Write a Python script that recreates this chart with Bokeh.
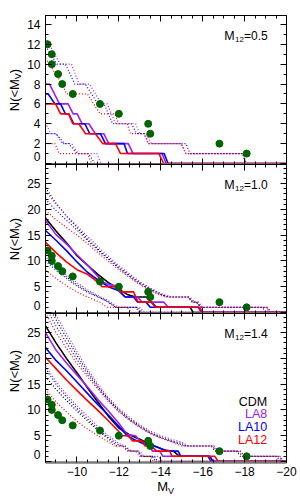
from math import pi
from bokeh.plotting import figure
from bokeh.models import Range1d, FixedTicker, LinearAxis, Label, ColumnDataSource
from bokeh.layouts import column, row
from bokeh.embed import file_html
from bokeh.resources import INLINE

FONT = "Liberation Sans"

# ---------------- data ----------------
X_MAJOR = [-10, -12, -14, -16, -18, -20]
X_MAJOR_LABELS = ["\u221210", "\u221212", "\u221214", "\u221216", "\u221218", "\u221220"]
X_MINOR = [-8.5, -9.0, -9.5, -10.5, -11.0, -11.5, -12.5, -13.0, -13.5, -14.5, -15.0, -15.5,
           -16.5, -17.0, -17.5, -18.5, -19.0, -19.5]
Y1_MAJOR = [0, 2, 4, 6, 8, 10, 12, 14]
Y1_LABELS = ["0", "2", "4", "6", "8", "10", "12", "14"]
Y1_MINOR = [1, 3, 5, 7, 9, 11, 13]
Y23_MAJOR = [0, 5, 10, 15, 20, 25]
Y23_LABELS = ["0", "5", "10", "15", "20", "25"]
Y23_MINOR = [1, 2, 3, 4, 6, 7, 8, 9, 11, 12, 13, 14, 16, 17, 18, 19, 21, 22, 23, 24, 26, 27, 28]
# the "0" label sits a little above the bottom edge, as in the original
ZERO_LABEL_POS = [0.7, 1.35, 1.35]

PANEL_MASS = ["0.5", "1.0", "1.4"]
MODELS = ["CDM", "LA8", "LA10", "LA12"]
MODEL_COLORS = ["black", "#a020f0", "#0000ff", "#ff0000"]

# observed Milky Way satellites (M_V, cumulative N)
OBS_MV = [-8.6, -8.8, -8.8, -9.1, -9.3, -9.8, -11.1, -12.0, -13.4, -13.5, -16.8, -18.1]
OBS_N = [12, 11, 10, 9, 8, 7, 6, 5, 4, 3, 2, 1]

# ---- panel 1: M12 = 0.5 ----
P1_LA8_MED = [(-8.5, 8), (-8.69, 8), (-9.17, 6), (-9.58, 6), (-9.82, 5), (-10.01, 5), (-10.25, 4), (-10.57, 4),
              (-10.88, 3), (-11.28, 3), (-11.52, 2), (-12.45, 2), (-12.68, 1), (-14.06, 1), (-14.26, 0), (-20, 0)]
P1_LA10_MED = [(-8.5, 7), (-8.63, 7), (-8.95, 6), (-9.22, 6), (-9.45, 5), (-9.61, 5), (-9.85, 4), (-10.38, 4),
               (-10.61, 3), (-11.12, 3), (-11.36, 2), (-12.25, 2), (-12.41, 1), (-14.16, 1), (-14.35, 0), (-20, 0)]
P1_LA12_MED = [(-8.5, 6), (-8.98, 6), (-9.22, 5), (-9.61, 5), (-9.80, 4), (-10.09, 4), (-10.41, 3), (-10.88, 3),
               (-11.23, 2), (-11.84, 2), (-12.08, 1), (-13.91, 1), (-14.14, 0), (-20, 0)]
P1_LA8_HI = [(-8.5, 12.7), (-9.2, 10), (-9.74, 10), (-10.1, 8), (-10.6, 8), (-11.17, 6), (-11.45, 6), (-11.85, 4),
             (-12.8, 4), (-13.0, 3), (-13.3, 3), (-13.55, 2), (-15.0, 2), (-15.2, 1), (-17.93, 1), (-18.09, 0), (-20, 0)]
P1_LA10_HI = [(-8.5, 11.8), (-9.05, 10), (-9.45, 10), (-9.9, 8), (-10.4, 8), (-11.0, 6), (-11.3, 6), (-11.7, 4),
              (-12.6, 4), (-12.85, 3), (-13.2, 3), (-13.4, 2), (-15.2, 2), (-15.4, 1), (-17.9, 1), (-18.05, 0), (-20, 0)]
P1_LA12_HI = [(-8.5, 10.6), (-9.3, 8), (-9.5, 7), (-10.5, 7), (-10.8, 6), (-11.1, 5), (-11.8, 5), (-12.0, 4),
              (-12.4, 4), (-12.55, 3), (-13.25, 3), (-13.4, 2), (-14.95, 2), (-15.2, 1), (-17.95, 1), (-18.05, 0), (-20, 0)]
P1_LA8_LO = [(-8.5, 4.1), (-8.75, 3), (-9.0, 3), (-9.3, 2), (-9.75, 2), (-10.05, 1), (-10.95, 1), (-11.15, 0), (-20, 0)]
P1_LA10_LO = [(-8.5, 3), (-9.0, 3), (-9.4, 2), (-9.6, 2), (-10.0, 1), (-10.55, 1), (-10.85, 0), (-20, 0)]
P1_LA12_LO = [(-8.5, 2), (-8.95, 2), (-9.15, 1), (-10.5, 1), (-10.7, 0), (-20, 0)]

# ---- panel 2: M12 = 1.0 ----
P2_CDM_MED = [(-8.5, 18.3), (-9.0, 15.8), (-9.5, 13.5), (-10.0, 11.0), (-10.5, 9.2), (-11.0, 7.4), (-11.5, 5.8),
              (-12.0, 4.5), (-12.4, 3.5), (-12.8, 3), (-13.3, 3), (-13.55, 2), (-13.8, 1), (-15.4, 1), (-15.55, 0), (-20, 0)]
P2_LA8_MED = [(-8.5, 17.8), (-9.0, 15.1), (-9.5, 13.3), (-10.0, 11.2), (-10.5, 9.2), (-11.0, 7.0), (-11.2, 6),
              (-11.5, 5.4), (-11.8, 5.2), (-12.3, 3), (-12.9, 3), (-13.1, 2), (-14.15, 2), (-14.35, 1), (-15.85, 1),
              (-16.02, 0), (-20, 0)]
P2_LA10_MED = [(-8.5, 15.9), (-9.0, 14.0), (-9.5, 12.0), (-10.0, 9.8), (-10.5, 7.8), (-11.0, 6.3), (-11.5, 5.0),
               (-12.0, 4.2), (-12.3, 3), (-12.7, 3), (-12.9, 2), (-13.3, 2), (-13.5, 1), (-15.8, 1), (-15.95, 0), (-20, 0)]
P2_LA12_MED = [(-8.5, 13.6), (-9.0, 11.6), (-9.5, 9.8), (-10.0, 8.3), (-10.5, 7.4), (-10.8, 6.5), (-11.1, 5.5),
               (-11.2, 5), (-11.8, 5), (-12.1, 4), (-12.7, 4), (-12.92, 2), (-13.55, 2), (-13.75, 1), (-15.8, 1),
               (-15.95, 0), (-20, 0)]
P2_CDM_HI = [(-8.5, 24.2), (-9.0, 21.2), (-9.5, 18.7), (-10.0, 16.5), (-10.5, 14.3), (-11.0, 12.3), (-11.5, 10.5),
             (-12.0, 8.8), (-12.5, 7.2), (-13.0, 5.8), (-13.5, 4.6), (-14.0, 3.6), (-14.4, 3), (-15.3, 3), (-15.5, 2),
             (-15.7, 2), (-15.9, 1), (-18.85, 1), (-19.0, 0), (-20, 0)]
P2_LA8_HI = [(-8.5, 23.5), (-9.0, 21.0), (-9.5, 18.8), (-10.0, 16.8), (-10.5, 14.8), (-11.0, 12.8), (-11.5, 10.9),
             (-12.0, 9.1), (-12.5, 7.5), (-13.0, 6.0), (-13.5, 4.7), (-14.0, 3.7), (-14.5, 3), (-15.4, 3), (-15.6, 2),
             (-15.8, 2), (-16.0, 1), (-19.05, 1), (-19.2, 0), (-20, 0)]
P2_LA10_HI = [(-8.5, 22.0), (-9.0, 19.8), (-9.5, 17.9), (-10.0, 16.0), (-10.5, 14.0), (-11.0, 12.1), (-11.5, 10.3),
              (-12.0, 8.6), (-12.5, 7.0), (-13.0, 5.6), (-13.5, 4.4), (-14.0, 3.5), (-14.3, 3), (-15.3, 3), (-15.5, 2),
              (-15.7, 2), (-15.9, 1), (-19.05, 1), (-19.2, 0), (-20, 0)]
P2_LA12_HI = [(-8.5, 19.8), (-9.0, 18.0), (-9.5, 16.5), (-10.0, 15.0), (-10.5, 13.4), (-11.0, 11.6), (-11.5, 9.9),
              (-12.0, 8.3), (-12.5, 6.8), (-13.0, 5.4), (-13.5, 4.2), (-14.0, 3.3), (-14.2, 3), (-15.35, 3), (-15.55, 2),
              (-15.75, 2), (-15.95, 1), (-19.1, 1), (-19.3, 0), (-20, 0)]
P2_CDM_LO = [(-8.5, 10.5), (-9.0, 8.6), (-9.5, 6.9), (-10.0, 5.4), (-10.5, 4.1), (-11.0, 3.1), (-11.4, 2.2),
             (-11.7, 1.4), (-11.85, 1), (-12.8, 1), (-13.0, 0), (-20, 0)]
P2_LA8_LO = [(-8.5, 11.0), (-9.0, 9.0), (-9.5, 7.3), (-10.0, 5.8), (-10.5, 4.4), (-11.0, 3.3), (-11.5, 2.3),
             (-11.8, 1.5), (-11.95, 1), (-13.0, 1), (-13.2, 0), (-20, 0)]
P2_LA10_LO = [(-8.5, 10.0), (-9.0, 8.2), (-9.5, 6.6), (-10.0, 5.1), (-10.5, 3.9), (-11.0, 3.0), (-11.4, 2.3),
              (-11.7, 1.5), (-11.85, 1), (-12.9, 1), (-13.1, 0), (-20, 0)]
P2_LA12_LO = [(-8.5, 8.2), (-9.0, 6.6), (-9.5, 5.2), (-10.0, 4.0), (-10.5, 3.0), (-10.8, 2.5), (-11.1, 2),
              (-11.3, 1.4), (-11.45, 1), (-12.4, 1), (-12.6, 0), (-20, 0)]

# ---- panel 3: M12 = 1.4 ----
P3_CDM_MED = [(-8.5, 26.3), (-9.0, 23.0), (-9.5, 20.0), (-10.0, 17.2), (-10.5, 14.3), (-11.0, 11.5), (-11.5, 8.8),
              (-12.0, 6.5), (-12.5, 5.2), (-13.0, 4.3), (-13.5, 3.3), (-14.0, 2.5), (-14.3, 2), (-14.6, 2), (-14.9, 1),
              (-16.25, 1), (-16.42, 0), (-20, 0)]
P3_LA8_MED = [(-8.5, 25.0), (-9.0, 21.6), (-9.5, 19.1), (-10.0, 16.8), (-10.5, 14.5), (-11.0, 12.0), (-11.5, 9.8),
              (-12.0, 7.4), (-12.4, 5.2), (-12.8, 5), (-13.0, 4), (-13.3, 3.5), (-13.5, 3), (-13.6, 2), (-13.95, 2),
              (-14.1, 1), (-16.3, 1), (-16.45, 0), (-20, 0)]
P3_LA10_MED = [(-8.5, 22.1), (-9.0, 19.6), (-9.5, 17.6), (-10.0, 15.4), (-10.5, 13.2), (-11.0, 11.0), (-11.5, 9.0),
               (-12.0, 6.8), (-12.4, 5), (-12.7, 4.3), (-13.2, 3.4), (-13.7, 3), (-14.2, 2.2), (-14.5, 2), (-14.83, 2),
               (-14.96, 1), (-16.35, 1), (-16.5, 0), (-20, 0)]
P3_LA12_MED = [(-8.5, 20.2), (-9.0, 18.0), (-9.5, 15.8), (-10.0, 13.8), (-10.5, 11.8), (-11.0, 9.9), (-11.5, 7.9),
               (-12.0, 5.8), (-12.1, 5), (-12.45, 5), (-12.65, 4), (-13.1, 4), (-13.25, 3), (-13.56, 3), (-13.8, 2),
               (-14.43, 2), (-14.54, 1), (-16.58, 1), (-16.74, 0), (-20, 0)]
P3_CDM_HI = [(-8.5, 31.0), (-9.0, 27.5), (-9.5, 24.0), (-10.0, 20.6), (-10.5, 17.5), (-11.0, 14.6), (-11.5, 12.1),
             (-12.0, 10.0), (-12.5, 8.3), (-13.0, 6.9), (-13.5, 5.6), (-14.0, 4.7), (-14.5, 4.0), (-15.0, 3.5),
             (-15.2, 3), (-16.4, 3), (-16.6, 2), (-17.6, 2), (-17.8, 1), (-19.5, 1), (-19.7, 0), (-20, 0)]
P3_LA8_HI = [(-8.5, 32.0), (-9.0, 28.4), (-9.5, 24.8), (-10.0, 21.3), (-10.5, 18.0), (-11.0, 15.0), (-11.5, 12.4),
             (-12.0, 10.3), (-12.5, 8.6), (-13.0, 7.1), (-13.5, 5.9), (-14.0, 5.0), (-14.5, 4.3), (-15.0, 3.8),
             (-15.3, 3), (-16.55, 3), (-16.75, 2), (-17.7, 2), (-17.9, 1), (-19.65, 1), (-19.85, 0), (-20, 0)]
P3_LA10_HI = [(-8.5, 30.0), (-9.0, 26.3), (-9.5, 23.0), (-10.0, 19.8), (-10.5, 17.0), (-11.0, 14.3), (-11.5, 11.9),
              (-12.0, 9.8), (-12.5, 8.1), (-13.0, 6.7), (-13.5, 5.5), (-14.0, 4.6), (-14.5, 3.9), (-14.9, 3.4),
              (-15.1, 3), (-16.5, 3), (-16.7, 2), (-17.8, 2), (-18.0, 1), (-19.7, 1), (-19.85, 0), (-20, 0)]
P3_LA12_HI = [(-8.5, 28.8), (-9.0, 25.0), (-9.5, 22.0), (-10.0, 19.0), (-10.5, 16.5), (-11.0, 14.0), (-11.5, 11.6),
              (-12.0, 9.6), (-12.5, 8.0), (-13.0, 6.6), (-13.5, 5.4), (-14.0, 4.5), (-14.5, 3.8), (-14.8, 3.3),
              (-15.0, 3), (-16.45, 3), (-16.65, 2), (-17.7, 2), (-17.9, 1), (-19.6, 1), (-19.8, 0), (-20, 0)]
P3_CDM_LO = [(-8.5, 16.5), (-9.0, 14.0), (-9.5, 11.8), (-10.0, 9.8), (-10.5, 7.9), (-11.0, 6.0), (-11.5, 4.4),
             (-11.9, 3), (-12.3, 3), (-12.5, 2), (-12.9, 2), (-13.1, 1), (-13.6, 1), (-13.75, 0), (-20, 0)]
P3_LA8_LO = [(-8.5, 18.5), (-9.0, 15.5), (-9.5, 13.0), (-10.0, 10.8), (-10.5, 8.8), (-11.0, 6.8), (-11.5, 5.0),
             (-12.0, 3.5), (-12.3, 3), (-12.6, 2), (-13.0, 2), (-13.2, 1), (-13.9, 1), (-14.05, 0), (-20, 0)]
P3_LA10_LO = [(-8.5, 18.0), (-9.0, 15.0), (-9.5, 12.5), (-10.0, 10.3), (-10.5, 8.3), (-11.0, 6.3), (-11.5, 4.6),
              (-12.0, 3.2), (-12.2, 3), (-12.5, 2), (-12.9, 2), (-13.1, 1), (-13.7, 1), (-13.85, 0), (-20, 0)]
P3_LA12_LO = [(-8.5, 14.0), (-9.0, 11.6), (-9.5, 9.6), (-10.0, 7.8), (-10.5, 6.3), (-11.0, 5.0), (-11.5, 3.8),
              (-11.8, 3), (-12.2, 3), (-12.4, 2), (-12.8, 2), (-13.0, 1), (-13.5, 1), (-13.65, 0), (-20, 0)]

PANEL_CURVES = [
    {"LA8": (P1_LA8_MED, P1_LA8_HI, P1_LA8_LO),
     "LA10": (P1_LA10_MED, P1_LA10_HI, P1_LA10_LO),
     "LA12": (P1_LA12_MED, P1_LA12_HI, P1_LA12_LO)},
    {"CDM": (P2_CDM_MED, P2_CDM_HI, P2_CDM_LO),
     "LA8": (P2_LA8_MED, P2_LA8_HI, P2_LA8_LO),
     "LA10": (P2_LA10_MED, P2_LA10_HI, P2_LA10_LO),
     "LA12": (P2_LA12_MED, P2_LA12_HI, P2_LA12_LO)},
    {"CDM": (P3_CDM_MED, P3_CDM_HI, P3_CDM_LO),
     "LA8": (P3_LA8_MED, P3_LA8_HI, P3_LA8_LO),
     "LA10": (P3_LA10_MED, P3_LA10_HI, P3_LA10_LO),
     "LA12": (P3_LA12_MED, P3_LA12_HI, P3_LA12_LO)},
]
Y_RANGES = [(-0.1, 14.9), (-0.2, 28.7), (-0.2, 28.7)]

# ---------------- styling / layout ----------------
FRAME_W, FRAME_H = 241, 149
LAB_W = 24          # strip holding the rotated y title (page has no margin)
BORDER_L = 20       # space for y tick labels
BORDER_R = 14
TOP_1 = 15
BOTTOM_3 = 17
XTITLE_H = 20
TICK_FS = "12px"


def tick_only_axis(positions, length, line_color=None, line_width=1):
    return LinearAxis(ticker=FixedTicker(ticks=[], minor_ticks=positions),
                      major_tick_in=0, major_tick_out=0,
                      minor_tick_in=length, minor_tick_out=0,
                      minor_tick_line_color="black",
                      major_label_standoff=0,
                      axis_line_color=line_color, axis_line_width=line_width)


def blank_fig(w, h):
    f = figure(width=w, height=h, output_backend="svg", toolbar_location=None,
               x_axis_location=None, y_axis_location=None,
               x_range=Range1d(0, 1), y_range=Range1d(0, 1),
               min_border_left=0, min_border_right=0, min_border_top=0, min_border_bottom=0)
    f.xgrid.visible = False
    f.ygrid.visible = False
    f.outline_line_color = None
    f.background_fill_color = "white"
    f.border_fill_color = "white"
    return f


def ytitle_fig(idx):
    h = FRAME_H + (TOP_1 if idx == 0 else 0)
    f = blank_fig(LAB_W, h)
    y0 = FRAME_H / 2 - 21.25
    cx = 14
    f.add_layout(Label(x=cx, y=y0, x_units="screen", y_units="screen", text="N(<M", angle=pi / 2,
                       text_align="left", text_baseline="middle", text_font=FONT,
                       text_font_size="13px", text_color="black"))
    f.add_layout(Label(x=cx + 3, y=y0 + 32.1, x_units="screen", y_units="screen", text="V", angle=pi / 2,
                       text_align="left", text_baseline="middle", text_font=FONT,
                       text_font_size="9px", text_color="black"))
    f.add_layout(Label(x=cx, y=y0 + 38.1, x_units="screen", y_units="screen", text=")", angle=pi / 2,
                       text_align="left", text_baseline="middle", text_font=FONT,
                       text_font_size="13px", text_color="black"))
    return f


def xtitle_fig():
    f = blank_fig(LAB_W + BORDER_L + FRAME_W + BORDER_R, XTITLE_H)
    f.add_layout(Label(x=156.7, y=XTITLE_H - 7, x_units="screen", y_units="screen", text="M",
                       text_align="left", text_baseline="middle", text_font=FONT,
                       text_font_size="13px", text_color="black"))
    f.add_layout(Label(x=167.5, y=XTITLE_H - 11, x_units="screen", y_units="screen", text="V",
                       text_align="left", text_baseline="middle", text_font=FONT,
                       text_font_size="9px", text_color="black"))
    return f


def make_panel(idx):
    ymaj = Y1_MAJOR if idx == 0 else Y23_MAJOR
    ylab = Y1_LABELS if idx == 0 else Y23_LABELS
    ymin = Y1_MINOR if idx == 0 else Y23_MINOR
    p = figure(frame_width=FRAME_W, frame_height=FRAME_H,
               x_range=Range1d(-8.5, -20), y_range=Range1d(*Y_RANGES[idx]),
               output_backend="svg", toolbar_location=None,
               x_axis_location=None, y_axis_location=None,
               min_border_left=BORDER_L, min_border_right=BORDER_R,
               min_border_top=TOP_1 if idx == 0 else 0,
               min_border_bottom=BOTTOM_3 if idx == 2 else 0)
    p.xgrid.visible = False
    p.ygrid.visible = False
    p.outline_line_color = "black"
    p.outline_line_width = 1
    p.background_fill_color = "white"
    p.border_fill_color = "white"

    # left ticks (inside), then the labelled axis
    p.add_layout(tick_only_axis(ymaj, 6), "left")
    p.add_layout(tick_only_axis(ymin, 3), "left")
    label_pos = [ZERO_LABEL_POS[idx]] + ymaj[1:]
    yax = LinearAxis(ticker=FixedTicker(ticks=label_pos, minor_ticks=[]),
                     major_tick_in=0, major_tick_out=0, minor_tick_in=0, minor_tick_out=0,
                     axis_line_color=None, major_label_standoff=5,
                     major_label_text_font=FONT, major_label_text_font_size=TICK_FS,
                     major_label_text_color="black",
                     major_label_overrides=dict(zip(label_pos, ylab)))
    p.add_layout(yax, "left")
    # right ticks
    p.add_layout(tick_only_axis(ymaj, 6, "black"), "right")
    p.add_layout(tick_only_axis(ymin, 3), "right")
    # top ticks
    p.add_layout(tick_only_axis(X_MAJOR, 6, "black"), "above")
    p.add_layout(tick_only_axis(X_MINOR, 3), "above")
    # bottom axis
    if idx == 2:
        xax = LinearAxis(ticker=FixedTicker(ticks=X_MAJOR, minor_ticks=X_MINOR),
                         major_tick_in=6, major_tick_out=0, minor_tick_in=3, minor_tick_out=0,
                         axis_line_color="#7a7a7a", axis_line_width=2.5, major_label_standoff=4,
                         major_label_text_font=FONT, major_label_text_font_size=TICK_FS,
                         major_label_text_color="black",
                         major_label_overrides=dict(zip(X_MAJOR, X_MAJOR_LABELS)))
        p.add_layout(xax, "below")
    else:
        p.add_layout(tick_only_axis(X_MAJOR, 6, "#7a7a7a", 2.5), "below")
        p.add_layout(tick_only_axis(X_MINOR, 3), "below")

    # curves: dotted envelopes first, then medians
    curves = PANEL_CURVES[idx]
    for model, color in zip(MODELS, MODEL_COLORS):
        if model not in curves:
            continue
        med, hi, lo = curves[model]
        for env in (hi, lo):
            src = ColumnDataSource(dict(x=[v[0] for v in env], y=[v[1] for v in env]))
            p.line("x", "y", source=src, line_color=color, line_width=1.2, line_dash="1 2")
    for model, color in zip(MODELS, MODEL_COLORS):
        if model not in curves:
            continue
        med = curves[model][0]
        src = ColumnDataSource(dict(x=[v[0] for v in med], y=[v[1] for v in med]))
        p.line("x", "y", source=src, line_color=color, line_width=1.6)

    p.scatter(OBS_MV, OBS_N, size=7, fill_color="#006400", line_color="#006400", marker="circle")

    # panel label M12=...
    ty = FRAME_H - 20.5
    p.add_layout(Label(x=178.7, y=ty, x_units="screen", y_units="screen", text="M",
                       text_align="left", text_baseline="middle", text_font=FONT,
                       text_font_size="12.5px", text_color="black"))
    p.add_layout(Label(x=189.5, y=ty - 3, x_units="screen", y_units="screen", text="12",
                       text_align="left", text_baseline="middle", text_font=FONT,
                       text_font_size="8px", text_color="black"))
    p.add_layout(Label(x=198.5, y=ty, x_units="screen", y_units="screen", text="=" + PANEL_MASS[idx],
                       text_align="left", text_baseline="middle", text_font=FONT,
                       text_font_size="12px", text_color="black"))

    if idx == 2:
        for i, (model, color) in enumerate(zip(MODELS, MODEL_COLORS)):
            p.add_layout(Label(x=221.7, y=61 - 12.8 * i, x_units="screen", y_units="screen", text=model,
                               text_align="right", text_baseline="middle", text_font=FONT,
                               text_font_size="12.5px", text_color=color))
    return p


rows = [row(ytitle_fig(i), make_panel(i), spacing=0) for i in range(3)]
layout = column(*rows, xtitle_fig(), spacing=0)

with open("out.html", "w") as f:
    f.write(file_html(layout, INLINE))
